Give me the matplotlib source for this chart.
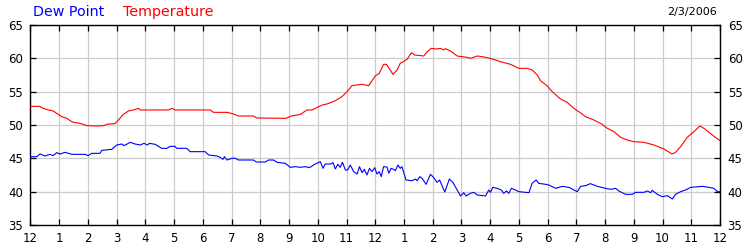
import matplotlib
matplotlib.use("Agg")
import matplotlib.pyplot as plt

# Temperature (hours since midnight, deg F)
temp_hours = [0.00, 0.33, 0.39, 0.62, 0.79, 0.91, 1.09, 1.26, 1.38, 1.49, 1.72, 1.96,
              2.31, 2.54, 2.71, 2.94, 3.06, 3.23, 3.41, 3.58, 3.76, 3.82, 4.80, 4.92,
              5.03, 6.25, 6.37, 6.84, 7.07, 7.24, 7.76, 7.88, 8.90, 9.04, 9.40, 9.62,
              9.80, 10.15, 10.32, 10.61, 10.84, 11.02, 11.19, 11.54, 11.77, 12.00, 12.14,
              12.29, 12.39, 12.62, 12.76, 12.87, 13.11, 13.26, 13.37, 13.69, 13.80, 13.95,
              14.15, 14.27, 14.38, 14.44, 14.62, 14.85, 15.20, 15.31, 15.55, 15.72, 15.95,
              16.18, 16.36, 16.71, 17.00, 17.29, 17.46, 17.64, 17.75, 17.99, 18.16, 18.45,
              18.68, 18.91, 19.12, 19.32, 19.61, 19.90, 20.08, 20.31, 20.54, 20.77, 21.00,
              21.35, 21.70, 22.05, 22.33, 22.45, 22.63, 22.86, 23.09, 23.30, 23.44, 23.73,
              24.00]
temp_values = [52.8, 52.8, 52.6, 52.25, 52.1, 51.75, 51.25, 51.0, 50.65, 50.4, 50.25, 49.9,
               49.85, 49.9, 50.15, 50.2, 50.75, 51.6, 52.1, 52.25, 52.5, 52.25, 52.25, 52.5,
               52.25, 52.25, 51.9, 51.9, 51.65, 51.35, 51.35, 51.05, 51.0, 51.3, 51.6, 52.25,
               52.25, 53.0, 53.15, 53.65, 54.25, 55.0, 55.9, 56.1, 55.9, 57.35, 57.75,
               59.1, 59.1, 57.6, 58.25, 59.25, 59.85, 60.85, 60.5, 60.35, 60.95, 61.5,
               61.4, 61.5, 61.25, 61.45, 61.1, 60.35, 60.15, 60.0, 60.35, 60.25, 60.05,
               59.75, 59.5, 59.1, 58.5, 58.5, 58.25, 57.5, 56.65, 55.85, 55.0, 53.9,
               53.4, 52.5, 51.9, 51.25, 50.75, 50.1, 49.5, 49.0, 48.15, 47.75, 47.5,
               47.4, 47.0, 46.4, 45.65, 45.9, 46.75, 48.15, 49.0, 49.85, 49.5, 48.5,
               47.65]

# Dew point (hours since midnight, deg F)
dew_hours = [0.00, 0.22, 0.33, 0.51, 0.68, 0.79, 0.91, 1.03, 1.20, 1.44, 1.90, 2.01,
             2.13, 2.42, 2.48, 2.83, 3.00, 3.18, 3.26, 3.47, 3.64, 3.82, 3.95, 4.07,
             4.14, 4.34, 4.57, 4.75, 4.86, 5.03, 5.09, 5.44, 5.56, 6.08, 6.20, 6.49,
             6.60, 6.70, 6.75, 6.84, 7.01, 7.13, 7.24, 7.76, 7.86, 8.17, 8.29, 8.46,
             8.58, 8.87, 9.04, 9.22, 9.39, 9.56, 9.71, 9.91, 10.09, 10.18, 10.26, 10.44,
             10.53, 10.61, 10.70, 10.78, 10.86, 10.96, 11.04, 11.13, 11.25, 11.37, 11.45,
             11.54, 11.62, 11.71, 11.80, 11.89, 11.98, 12.06, 12.14, 12.21, 12.29, 12.41,
             12.47, 12.55, 12.64, 12.70, 12.79, 12.87, 12.93, 13.07, 13.28, 13.40, 13.46,
             13.55, 13.63, 13.77, 13.92, 14.03, 14.15, 14.24, 14.42, 14.58, 14.70, 14.85,
             14.97, 15.08, 15.16, 15.31, 15.43, 15.55, 15.84, 15.95, 16.01, 16.09, 16.24,
             16.39, 16.47, 16.57, 16.65, 16.74, 16.88, 17.00, 17.35, 17.46, 17.60, 17.69,
             17.93, 18.04, 18.28, 18.51, 18.74, 19.03, 19.15, 19.32, 19.49, 19.73, 20.02,
             20.19, 20.37, 20.48, 20.71, 20.95, 21.06, 21.35, 21.47, 21.59, 21.64, 21.82,
             21.99, 22.17, 22.34, 22.45, 22.63, 22.80, 22.98, 23.39, 23.61, 23.79, 23.91,
             24.00]
dew_values = [45.25, 45.25, 45.65, 45.35, 45.6, 45.4, 45.85, 45.65, 45.9, 45.6, 45.6, 45.4,
              45.75, 45.75, 46.2, 46.35, 47.0, 47.15, 46.9, 47.4, 47.15, 47.0, 47.25, 47.0,
              47.25, 47.1, 46.5, 46.5, 46.8, 46.8, 46.5, 46.5, 46.0, 46.0, 45.5, 45.35,
              45.15, 44.85, 45.25, 44.75, 45.0, 45.0, 44.75, 44.75, 44.45, 44.45, 44.75, 44.75,
              44.4, 44.25, 43.65, 43.75, 43.65, 43.75, 43.6, 44.15, 44.5, 43.5, 44.15, 44.15,
              44.35, 43.4, 44.1, 43.65, 44.4, 43.25, 43.25, 44.0, 43.0, 42.65, 43.75,
              42.85, 43.35, 42.5, 43.5, 43.0, 43.6, 42.65, 43.0, 42.25, 43.75, 43.7,
              42.75, 43.5, 43.35, 43.15, 44.0, 43.5, 43.75, 41.75, 41.65, 41.9, 41.65,
              42.25, 42.0, 41.1, 42.6, 42.15, 41.4, 41.75, 39.95, 41.9, 41.4, 40.25,
              39.35, 39.85, 39.35, 39.75, 39.9, 39.5, 39.35, 40.25, 39.9, 40.65, 40.5,
              40.25, 39.75, 40.1, 39.75, 40.5, 40.25, 40.0, 39.85, 41.25, 41.75, 41.25,
              41.1, 41.0, 40.5, 40.8, 40.65, 40.0, 40.8, 40.9, 41.2, 40.8, 40.5,
              40.35, 40.5, 40.1, 39.6, 39.6, 39.9, 39.9, 40.1, 39.85, 40.2, 39.6,
              39.25, 39.4, 38.9, 39.6, 40.0, 40.25, 40.65, 40.8, 40.65, 40.5, 40.0,
              40.0]

hour_ticks = list(range(0, 25))
hour_labels = ["12", "1", "2", "3", "4", "5", "6", "7", "8", "9", "10", "11",
               "12", "1", "2", "3", "4", "5", "6", "7", "8", "9", "10", "11", "12"]
y_ticks = [35, 40, 45, 50, 55, 60, 65]
date_label = "2/3/2006"

plt.rcParams['font.family'] = ['DejaVu Sans']
fig = plt.figure(figsize=(7.5, 2.5), dpi=100)
ax = fig.add_axes([30.5 / 750, 0.1, (720 - 30.5) / 750, 0.8])

ax.plot(dew_hours, dew_values, color="#0000ff", lw=0.8, zorder=3)
ax.plot(temp_hours, temp_values, color="#ff0000", lw=0.8, zorder=3)

ax.set_xlim(0, 24)
ax.set_ylim(35, 65)
ax.set_xticks(hour_ticks)
ax.set_xticklabels(hour_labels)
ax.set_yticks(y_ticks)
ax.grid(True, color="#cccccc", lw=0.9, zorder=0)
ax.set_axisbelow(True)
for s in ax.spines.values():
    s.set_color("black")
    s.set_linewidth(1.0)
ax.tick_params(axis="both", which="both", direction="in", length=4, width=0.9,
               labelsize=8.5, colors="black", top=True, right=True,
               labelright=True, labelleft=True)
ax.tick_params(axis="x", pad=5)
ax.tick_params(axis="y", pad=5.5)

fig.text(33 / 750, 1 - 12 / 250, "Dew Point", color="#0000ff", fontsize=10.3,
         ha="left", va="center")
fig.text(123 / 750, 1 - 12 / 250, "Temperature", color="#ff0000", fontsize=10.3,
         ha="left", va="center")
fig.text(717 / 750, 1 - 12 / 250, date_label, color="black", fontsize=8,
         ha="right", va="center")

fig.savefig("out.png", dpi=100)
